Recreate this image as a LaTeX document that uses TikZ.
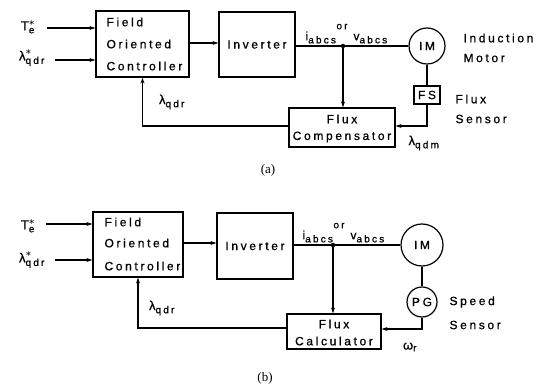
\documentclass[tikz,border=0pt]{standalone}
\usepackage{amsmath}
\usepackage{fontspec}
\setmainfont{Liberation Sans}[LetterSpace=22,FakeBold=0.8]
\newfontfamily\capfont{Liberation Serif}
\DeclareMathSizes{12}{12}{10}{8}
\DeclareMathSizes{13}{13}{10}{8}
\usetikzlibrary{arrows.meta}
\begin{document}
\begin{tikzpicture}[x=1pt,y=-1pt, line width=1.1pt,
  blk/.style={draw, line width=1.2pt, inner sep=0pt},
  circ/.style={draw, circle, line width=1.2pt, inner sep=0pt, font=\fontsize{12}{14}\selectfont},
  lbl/.style={font=\fontsize{12}{14}\selectfont, inner sep=0pt},
  sym/.style={font=\fontsize{13}{15}\selectfont, inner sep=0pt},
  captxt/.style={font=\capfont\fontsize{13}{15}\selectfont, inner sep=0pt},
  arr/.style={-{Stealth[length=6pt,width=4pt]}}]
\useasboundingbox (0,0) rectangle (544,387);

% ---------------- (a) ----------------
\node[blk, minimum width=93pt, minimum height=66pt] (focA) at (142.5,44) {};
\node[lbl, anchor=west] (focA1) at (106,22) {Field};
\node[lbl, anchor=west] (focA2) at (106,44) {Oriented};
\node[lbl, anchor=west] (focA3) at (106,66) {Controller};
\node[blk, minimum width=76pt, minimum height=65pt, font=\fontsize{12}{14}\selectfont] (invA) at (257,44.5) {Inverter};
\node[circ, minimum size=36pt] (imA) at (427,46) {IM};
\node[blk, minimum width=26pt, minimum height=18pt, font=\fontsize{12}{14}\selectfont] (fsA) at (427,95) {FS};
\node[blk, minimum width=106pt, minimum height=39pt] (compA) at (342,127.5) {};
\node[lbl] (compA1) at (342,119) {Flux};
\node[lbl] (compA2) at (342,137) {Compensator};
\node[sym] (teA) at (28,27) {$\text{T}^{\boldsymbol{\ast}}_{\text{e}}$};
\node[sym] (lrA) at (32,58) {$\text{λ}^{\boldsymbol{\ast}}_{\text{qdr}}$};
\node[sym] (lfA) at (172,102) {$\text{λ}_{\text{qdr}}$};
\node[sym] (lmA) at (424,143) {$\text{λ}_{\text{qdm}}$};
\node[lbl, anchor=south west] (ivA) at (305,44) {$\text{i}_{\text{abcs}}$\raisebox{11pt}{\fontsize{10}{12}\selectfont or} $\text{v}_{\text{abcs}}$};
\node[lbl, anchor=west] (indA) at (463,38) {Induction};
\node[lbl, anchor=west] (motA) at (463,58) {Motor};
\node[lbl, anchor=west] (fl1A) at (455,99) {Flux};
\node[lbl, anchor=west] (fl2A) at (455,119) {Sensor};
\node[captxt] (capA) at (268,170) {(a)};

\coordinate (teAe) at (47,28);
\coordinate (lrAe) at (55,60);
\coordinate (jA) at (343,46);
\draw[arr] (teAe) -- (focA.west |- teAe);
\draw[arr] (lrAe) -- (focA.west |- lrAe);
\draw[arr] (focA.east |- 0,43) -- (invA.west |- 0,43);
\draw (invA.east |- jA) -- (imA.west);
\fill (jA) circle (2.2pt);
\draw[arr] (jA) -- (jA |- compA.north);
\draw (imA.south) -- (fsA.north);
\draw[arr] (fsA.south) |- (compA.east |- 0,126);
\draw[arr] (compA.west |- 0,126) -| (focA.south);

% ---------------- (b) ----------------
\node[blk, minimum width=90pt, minimum height=65pt] (focB) at (138,244.5) {};
\node[lbl, anchor=west] (focB1) at (104,222) {Field};
\node[lbl, anchor=west] (focB2) at (104,243) {Oriented};
\node[lbl, anchor=west] (focB3) at (104,266) {Controller};
\node[blk, minimum width=76pt, minimum height=66pt, font=\fontsize{12}{14}\selectfont] (invB) at (255,246) {Inverter};
\node[circ, minimum size=42pt] (imB) at (422,245) {IM};
\node[circ, minimum size=30pt] (pgB) at (422,302) {PG};
\node[blk, minimum width=94pt, minimum height=35pt] (calcB) at (334,331.5) {};
\node[lbl] (calcB1) at (334,324) {Flux};
\node[lbl] (calcB2) at (334,341) {Calculator};
\node[sym] (teB) at (28,226) {$\text{T}^{\boldsymbol{\ast}}_{\text{e}}$};
\node[sym] (lrB) at (32,260) {$\text{λ}^{\boldsymbol{\ast}}_{\text{qdr}}$};
\node[sym] (lfB) at (162,308) {$\text{λ}_{\text{qdr}}$};
\node[sym] (wB) at (410,347) {$\text{ω}_{\text{r}}$};
\node[lbl, anchor=south west] (ivB) at (302,243) {$\text{i}_{\text{abcs}}$\raisebox{11pt}{\fontsize{10}{12}\selectfont or} $\text{v}_{\text{abcs}}$};
\node[lbl, anchor=west] (spB) at (449,302) {Speed};
\node[lbl, anchor=west] (seB) at (449,325) {Sensor};
\node[captxt] (capB) at (265,378) {(b)};

\coordinate (teBe) at (46,224);
\coordinate (lrBe) at (55,260);
\coordinate (jB) at (333,245);
\draw[arr] (teBe) -- (focB.west |- teBe);
\draw[arr] (lrBe) -- (focB.west |- lrBe);
\draw[arr] (focB.east |- 0,243) -- (invB.west |- 0,243);
\draw (invB.east |- jB) -- (imB.west);
\fill (jB) circle (2.2pt);
\draw[arr] (jB) -- (jB |- calcB.north);
\draw (imB.south) -- (pgB.north);
\draw[arr] (pgB.south) |- (calcB.east |- 0,329);
\draw[arr] (calcB.west |- 0,328) -| (focB.south);
\end{tikzpicture}
\end{document}
